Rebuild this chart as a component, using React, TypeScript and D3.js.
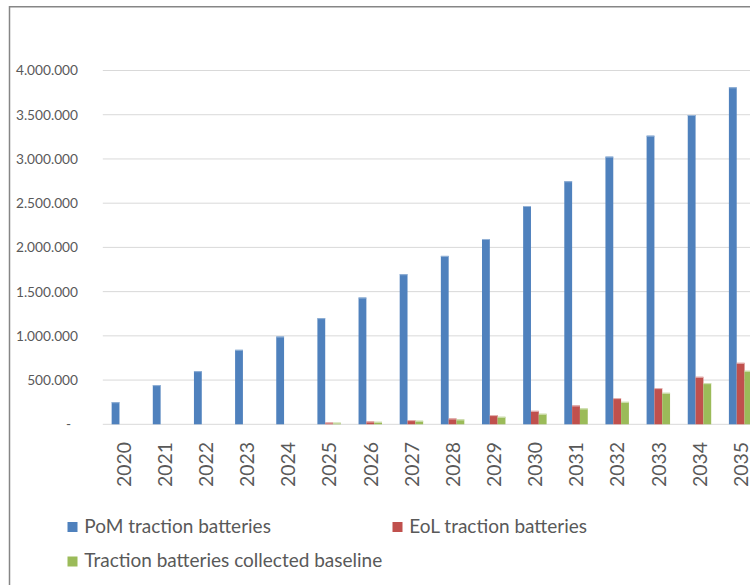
import React from "react";
import * as d3 from "d3";

const years = ["2020","2021","2022","2023","2024","2025","2026","2027","2028","2029","2030","2031","2032","2033","2034","2035"];
const pomValues = [250000, 443000, 601000, 842000, 992000, 1200000, 1433000, 1697000, 1904000, 2095000, 2468000, 2748000, 3026000, 3263000, 3497000, 3810000];
const eolValues = [0, 0, 0, 0, 0, 20000, 32000, 47000, 66000, 104000, 152000, 213000, 296000, 409000, 537000, 695000];
const collectedValues = [0, 0, 0, 0, 0, 18000, 28000, 40000, 55000, 85000, 119000, 179000, 254000, 356000, 465000, 605000];
const yTicks = [0, 500000, 1000000, 1500000, 2000000, 2500000, 3000000, 3500000, 4000000];
const seriesNames = ["PoM traction batteries", "EoL traction batteries", "Traction batteries collected baseline"];
const seriesColors = ["#4F81BD", "#C0504D", "#9BBB59"];
const seriesEdge = ["#95B3D7", "#E6B9B8", "#D7E4BD"];

const W = 750;
const H = 585;
const FONT = "Lato, 'Open Sans', sans-serif";
const TEXT = "#595959";

export default function App() {
  const step = 41.15;
  const x0 = 102.8;
  const x = d3.scaleBand<string>()
    .domain(years)
    .range([x0, x0 + step * years.length])
    .paddingInner(0.43)
    .paddingOuter(0.215);
  const sx = d3.scaleBand<number>().domain([0, 1, 2]).range([0, x.bandwidth()]).padding(0);
  const y = d3.scaleLinear().domain([0, 4000000]).range([424.3, 70.5]);
  const fmt = (v: number) => (v === 0 ? "-" : d3.format(",")(v).replace(/,/g, "."));
  const series = [pomValues, eolValues, collectedValues];

  const legend = [
    { i: 0, x: 67.5, y: 522, tx: 84.3, ty: 532.5 },
    { i: 1, x: 392.5, y: 522, tx: 409.3, ty: 532.5 },
    { i: 2, x: 67.5, y: 556.5, tx: 84.3, ty: 567 },
  ];

  return (
    <svg width={W} height={H} style={{ position: "absolute", left: 0, top: 0, background: "#fff" }} fontFamily={FONT}>
      <rect x={0} y={0} width={W} height={H} fill="#fff" />
      {/* frame */}
      <path d={`M9.5,${H + 5} V6.8 H${W + 5}`} fill="none" stroke="#868686" strokeWidth={1.5} />
      {/* gridlines */}
      {yTicks.map((t) => (
        <line key={t} x1={x0} x2={x0 + step * years.length} y1={y(t)} y2={y(t)} stroke="#D9D9D9" strokeWidth={1} />
      ))}
      {/* y labels */}
      {yTicks.map((t) => (
        <text key={"l" + t} x={t === 0 ? 71 : 78} y={y(t)} dy="0.36em" textAnchor="end" fontSize={13.7} fill={TEXT}>
          {fmt(t)}
        </text>
      ))}
      {/* bars */}
      {series.map((vals, si) =>
        vals.map((v, i) => {
          const bx = (x(years[i]) as number) + (sx(si) as number);
          const bw = sx.bandwidth();
          const by = y(v);
          const bh = y(0) - by;
          if (bh <= 0.05) return null;
          return (
            <g key={si + "-" + i}>
              <rect x={bx} y={by} width={bw} height={bh} fill={seriesColors[si]} />
              <line x1={bx} x2={bx + bw} y1={by + 0.5} y2={by + 0.5} stroke={seriesEdge[si]} strokeWidth={1} />
            </g>
          );
        })
      )}
      {/* x labels */}
      {years.map((yr) => {
        const cx = (x(yr) as number) + x.bandwidth() / 2;
        return (
          <text key={"x" + yr} transform={`translate(${cx + 7.3},442) rotate(-90)`} textAnchor="end" fontSize={19.4} fill={TEXT}>
            {yr}
          </text>
        );
      })}
      {/* legend */}
      {legend.map((l) => (
        <g key={"lg" + l.i}>
          <rect x={l.x} y={l.y} width={10} height={10} fill={seriesColors[l.i]} />
          <text x={l.tx} y={l.ty} fontSize={19} fill={TEXT}>{seriesNames[l.i]}</text>
        </g>
      ))}
    </svg>
  );
}
